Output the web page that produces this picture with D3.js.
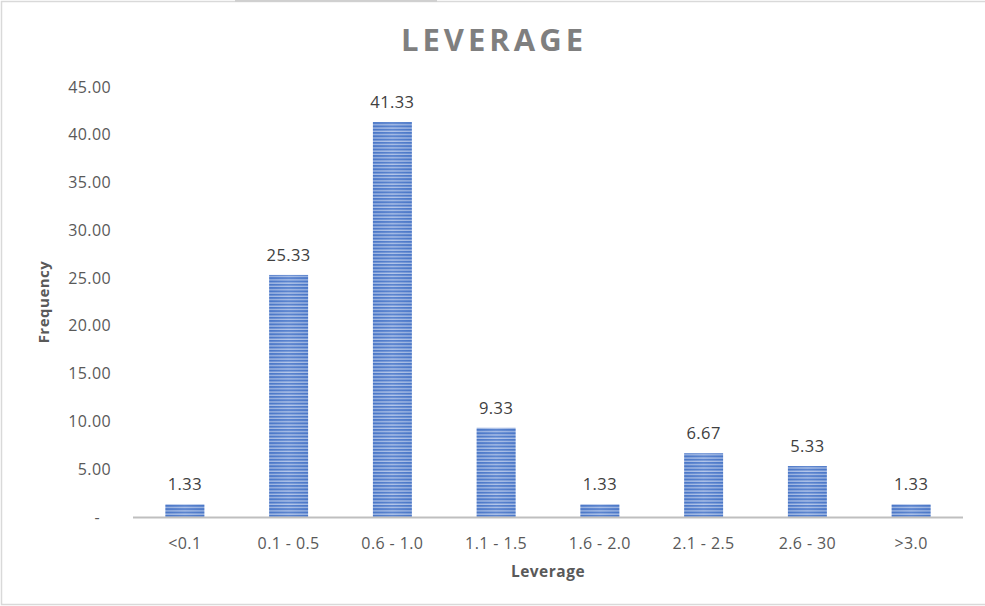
<!DOCTYPE html>
<html>
<head>
<meta charset="utf-8">
<script src="https://cdn.jsdelivr.net/npm/d3@7/dist/d3.min.js"></script>
<style>
  html, body { margin: 0; padding: 0; background: #fff; }
  svg { display: block; font-family: "Open Sans", "Noto Sans", sans-serif; }
</style>
</head>
<body>
<svg id="chart" width="985" height="606"></svg>
<script>
// Leverage distribution (frequency, %)
const categories = ["<0.1", "0.1 - 0.5", "0.6 - 1.0", "1.1 - 1.5", "1.6 - 2.0", "2.1 - 2.5", "2.6 - 30", ">3.0"];
const frequency = [1.33, 25.33, 41.33, 9.33, 1.33, 6.67, 5.33, 1.33];
const yTicks = [0, 5, 10, 15, 20, 25, 30, 35, 40, 45];

const svg = d3.select("#chart");
const W = 985, H = 606;
const margin = { left: 133, right: 22, top: 87, bottom: 89 };

// chart frame (continues past the right edge)
svg.append("rect")
  .attr("x", 1.5).attr("y", 1.5)
  .attr("width", W + 10).attr("height", H - 3)
  .attr("fill", "#fff").attr("stroke", "#d9d9d9").attr("stroke-width", 1.5);
svg.append("rect")
  .attr("x", 235).attr("y", 0).attr("width", 202).attr("height", 2)
  .attr("fill", "#d0d0d0");

// striped bar fill
const defs = svg.append("defs");
const grad = defs.append("linearGradient").attr("id", "barGrad")
  .attr("x1", "0").attr("x2", "1").attr("y1", "0").attr("y2", "0");
grad.append("stop").attr("offset", "0%").attr("stop-color", "#4a76c6");
grad.append("stop").attr("offset", "50%").attr("stop-color", "#7d9edb");
grad.append("stop").attr("offset", "100%").attr("stop-color", "#4a76c6");

const pat = defs.append("pattern").attr("id", "barStripes")
  .attr("patternUnits", "userSpaceOnUse")
  .attr("width", 6).attr("height", 3.3);
pat.append("rect").attr("width", 6).attr("height", 3.3).attr("fill", "#4a77c8");
pat.append("rect").attr("y", 2).attr("width", 6).attr("height", 1.3).attr("fill", "#d3def3");

const x = d3.scaleBand()
  .domain(categories)
  .range([margin.left, W - margin.right])
  .paddingInner(0.625).paddingOuter(0.3125);

const y = d3.scaleLinear()
  .domain([0, 45])
  .range([H - margin.bottom, margin.top]);

// y tick labels (accounting style, zero shown as "-")
svg.append("g").selectAll("text")
  .data(yTicks).join("text")
  .attr("x", d => d === 0 ? 100 : 111)
  .attr("y", d => y(d))
  .attr("dy", "0.35em")
  .attr("text-anchor", "end")
  .attr("font-size", 16)
  .attr("letter-spacing", 0.4)
  .attr("fill", "#595959")
  .text(d => d === 0 ? "-" : d3.format(".2f")(d));

// bars
const bars = svg.append("g");
bars.selectAll("rect.bar")
  .data(frequency).join("rect")
  .attr("class", "bar")
  .attr("x", (d, i) => x(categories[i]))
  .attr("y", d => y(d))
  .attr("width", x.bandwidth())
  .attr("height", d => y(0) - y(d))
  .attr("fill", "url(#barStripes)");
bars.selectAll("rect.shade")
  .data(frequency).join("rect")
  .attr("class", "shade")
  .attr("x", (d, i) => x(categories[i]))
  .attr("y", d => y(d))
  .attr("width", x.bandwidth())
  .attr("height", d => y(0) - y(d))
  .attr("fill", "url(#barGrad)")
  .attr("opacity", 0.35);

// baseline
svg.append("line")
  .attr("x1", margin.left).attr("x2", W - margin.right)
  .attr("y1", y(0) + 0.5).attr("y2", y(0) + 0.5)
  .attr("stroke", "#bfbfbf").attr("stroke-width", 2);

// data labels
svg.append("g").selectAll("text")
  .data(frequency).join("text")
  .attr("x", (d, i) => x(categories[i]) + x.bandwidth() / 2)
  .attr("y", d => y(d) - 14)
  .attr("text-anchor", "middle")
  .attr("font-size", 16.5)
  .attr("letter-spacing", 0.4)
  .attr("fill", "#404040")
  .text(d => d3.format(".2f")(d));

// category labels
svg.append("g").selectAll("text")
  .data(categories).join("text")
  .attr("x", d => x(d) + x.bandwidth() / 2)
  .attr("y", y(0) + 32)
  .attr("text-anchor", "middle")
  .attr("font-size", 16)
  .attr("letter-spacing", 0.4)
  .attr("fill", "#595959")
  .text(d => d);

// title
svg.append("text")
  .attr("x", 494).attr("y", 51)
  .attr("text-anchor", "middle")
  .attr("font-size", 31)
  .attr("font-weight", "bold")
  .attr("letter-spacing", 4)
  .attr("fill", "#7f7f7f")
  .text("LEVERAGE");

// axis titles
svg.append("text")
  .attr("x", (margin.left + W - margin.right) / 2)
  .attr("y", 577)
  .attr("text-anchor", "middle")
  .attr("font-size", 15.5)
  .attr("font-weight", "bold")
  .attr("letter-spacing", 0.5)
  .attr("fill", "#595959")
  .text("Leverage");

svg.append("text")
  .attr("transform", "translate(49,302) rotate(-90)")
  .attr("text-anchor", "middle")
  .attr("font-size", 15)
  .attr("font-weight", "bold")
  .attr("letter-spacing", 0.5)
  .attr("fill", "#595959")
  .text("Frequency");
</script>
</body>
</html>
